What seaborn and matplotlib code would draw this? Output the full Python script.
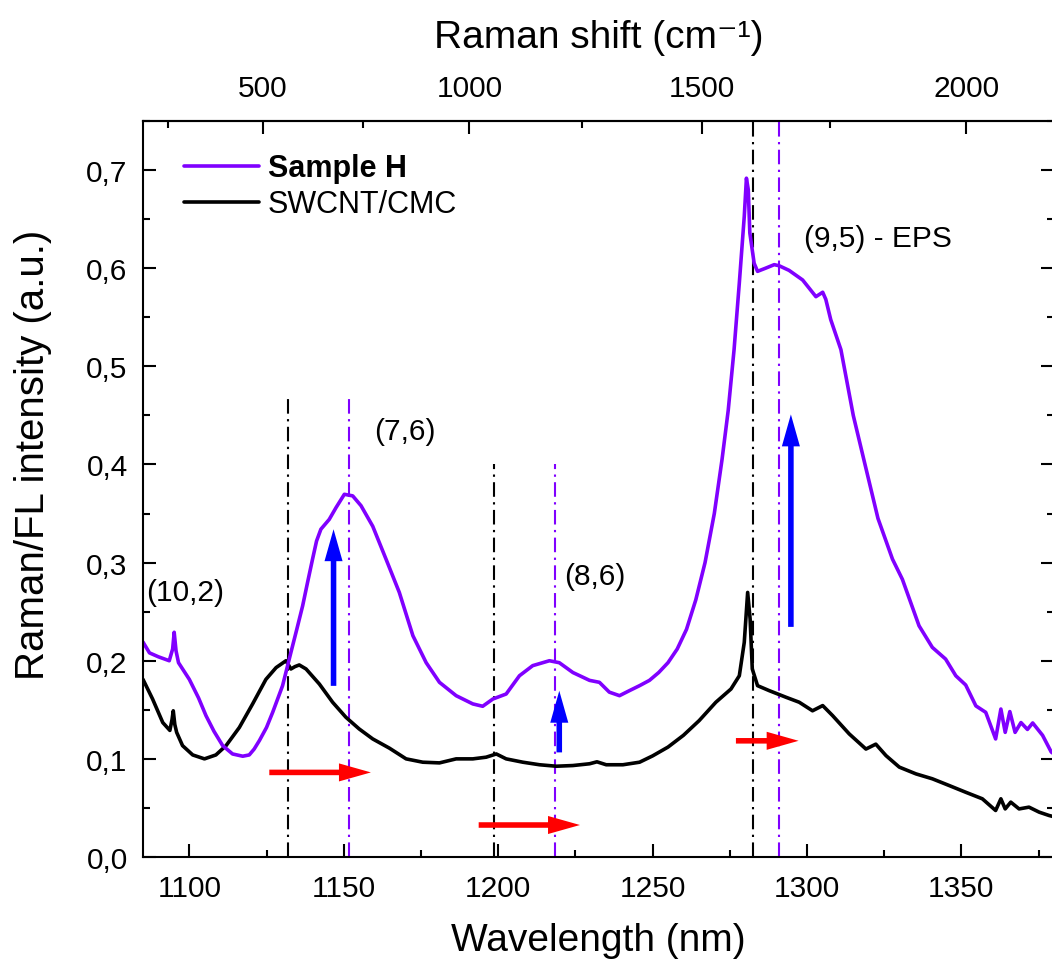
import numpy as np
import pandas as pd
import matplotlib
matplotlib.use("Agg")
import matplotlib.pyplot as plt
from matplotlib.ticker import FixedLocator, MultipleLocator, FuncFormatter
import seaborn as sns

# ---------------- data ----------------
sample_h_wl = [1085.0, 1087.1, 1090.0, 1093.5, 1094.6, 1095.1, 1095.7, 1096.5, 1100.0, 1103.0,
               1105.4, 1108.0, 1110.8, 1114.0, 1117.3, 1119.4, 1121.0, 1122.7, 1125.0, 1127.0,
               1130.2, 1132.9, 1134.8, 1136.7, 1138.3, 1139.9, 1141.2, 1142.6, 1145.3, 1147.5,
               1150.2, 1152.9, 1155.6, 1159.4, 1163.7, 1168.0, 1172.4, 1176.7, 1181.0, 1186.4,
               1191.8, 1195.0, 1198.3, 1202.6, 1206.9, 1211.2, 1216.6, 1219.8, 1224.2, 1229.6,
               1232.8, 1236.0, 1239.3, 1242.5, 1245.8, 1249.0, 1252.0, 1255.0, 1258.0, 1261.0,
               1264.0, 1267.0, 1270.0, 1272.5, 1274.5, 1276.4, 1278.1, 1279.7, 1280.4, 1281.0,
               1281.5, 1282.9, 1284.0, 1286.6, 1289.4, 1291.0, 1294.2, 1298.6, 1302.9, 1305.1,
               1306.1, 1307.7, 1311.0, 1315.0, 1318.8, 1323.0, 1327.7, 1330.9, 1336.3, 1340.6,
               1344.9, 1348.2, 1351.4, 1354.7, 1357.9, 1361.1, 1362.8, 1364.2, 1365.7, 1367.4,
               1369.3, 1371.4, 1373.1, 1376.3, 1379.1, 1380.0]
sample_h_int = [0.219, 0.208, 0.204, 0.200, 0.212, 0.229, 0.210, 0.198, 0.181, 0.162,
                0.144, 0.128, 0.1135, 0.105, 0.1027, 0.104, 0.110, 0.1187, 0.132, 0.1475,
                0.1746, 0.2085, 0.232, 0.256, 0.280, 0.3035, 0.322, 0.334, 0.344, 0.356,
                0.3696, 0.368, 0.358, 0.337, 0.3035, 0.2696, 0.2255, 0.198, 0.178, 0.1644,
                0.156, 0.1536, 0.161, 0.1661, 0.1847, 0.195, 0.200, 0.198, 0.188, 0.180,
                0.178, 0.168, 0.1644, 0.1695, 0.1746, 0.180, 0.188, 0.198, 0.212, 0.232,
                0.262, 0.300, 0.350, 0.405, 0.455, 0.517, 0.585, 0.6527, 0.6917, 0.680,
                0.636, 0.605, 0.5968, 0.600, 0.6036, 0.6025, 0.5978, 0.588, 0.571, 0.5755,
                0.5683, 0.5476, 0.517, 0.450, 0.400, 0.345, 0.3035, 0.283, 0.2356, 0.2136,
                0.2017, 0.1847, 0.1753, 0.154, 0.1474, 0.1203, 0.1508, 0.127, 0.1482, 0.127,
                0.137, 0.130, 0.1366, 0.124, 0.107, 0.105]

swcnt_wl = [1085.0, 1088.1, 1091.4, 1093.7, 1094.4, 1094.8, 1095.3, 1095.9, 1097.8, 1101.1,
            1104.9, 1108.6, 1111.9, 1116.2, 1120.5, 1124.8, 1128.1, 1131.3, 1132.9, 1134.2,
            1135.6, 1137.8, 1142.1, 1146.4, 1150.7, 1155.0, 1159.4, 1164.8, 1170.2, 1175.6,
            1181.0, 1186.4, 1191.8, 1196.1, 1199.4, 1202.6, 1208.0, 1213.4, 1218.8, 1224.2,
            1229.6, 1232.0, 1235.0, 1240.4, 1245.8, 1250.0, 1255.0, 1260.0, 1265.1, 1270.5,
            1275.4, 1278.1, 1279.7, 1280.8, 1281.6, 1282.3, 1284.0, 1287.8, 1293.2, 1297.5,
            1301.8, 1305.1, 1308.3, 1313.7, 1319.1, 1322.3, 1325.6, 1329.9, 1335.3, 1340.6,
            1346.0, 1351.4, 1356.8, 1361.1, 1362.8, 1364.2, 1366.0, 1368.7, 1371.9, 1375.2,
            1378.4, 1380.0]
swcnt_int = [0.181, 0.161, 0.137, 0.129, 0.140, 0.149, 0.135, 0.127, 0.1135, 0.104,
             0.100, 0.104, 0.1135, 0.132, 0.156, 0.181, 0.193, 0.200, 0.1916, 0.194,
             0.1957, 0.1916, 0.1763, 0.1577, 0.1424, 0.1305, 0.1203, 0.1109, 0.100, 0.0966,
             0.0959, 0.100, 0.100, 0.1017, 0.105, 0.100, 0.0966, 0.094, 0.0925, 0.0932,
             0.095, 0.097, 0.094, 0.094, 0.0966, 0.103, 0.112, 0.124, 0.139, 0.1577,
             0.1712, 0.1847, 0.2187, 0.2696, 0.2424, 0.1916, 0.1746, 0.1695, 0.1628, 0.1577,
             0.149, 0.1543, 0.1441, 0.1254, 0.110, 0.115, 0.1033, 0.0916, 0.0847, 0.0797,
             0.0729, 0.066, 0.0593, 0.0474, 0.0593, 0.049, 0.0559, 0.049, 0.0508, 0.0457,
             0.0423, 0.041]

series_names = ["Sample H", "SWCNT/CMC"]

# reference peak positions (nm) and the heights the marker lines reach
ref_lines_black = [1131.8, 1198.7, 1282.6]
ref_lines_purple = [1151.6, 1218.4, 1291.0]
ref_lines_top = [0.47, 0.40, 0.75]

# annotations
peak_labels = ["(10,2)", "(7,6)", "(8,6)", "(9,5) - EPS"]
peak_label_x = [1086.0, 1169.8, 1231.2, 1299.1]
peak_label_y = [0.270, 0.434, 0.2865, 0.631]
peak_label_ha = ["left", "center", "center", "left"]

up_arrow_x = [1146.7, 1219.8, 1294.8]
up_arrow_from = [0.1744, 0.1066, 0.2345]
up_arrow_to = [0.334, 0.1694, 0.451]

right_arrow_from = [1125.9, 1193.7, 1277.0]
right_arrow_to = [1158.8, 1226.5, 1297.3]
right_arrow_y = [0.0862, 0.0326, 0.1184]

x_ticks = [1100, 1150, 1200, 1250, 1300, 1350]
y_ticks = [0.0, 0.1, 0.2, 0.3, 0.4, 0.5, 0.6, 0.7]
raman_ticks = [500, 1000, 1500, 2000]
raman_minor = [250, 750, 1250, 1750]
laser_nm = 1064.0

# ---------------- styling ----------------
sns.set_style("ticks")
plt.rcParams["font.family"] = ["Liberation Sans", "DejaVu Sans"]
plt.rcParams["axes.linewidth"] = 1.5
for key in ["text.color", "axes.labelcolor", "xtick.color", "ytick.color", "axes.edgecolor"]:
    plt.rcParams[key] = "black"

PURPLE = "#8000ff"

df = pd.concat([
    pd.DataFrame({"Wavelength": swcnt_wl, "Intensity": swcnt_int, "Series": series_names[1]}),
    pd.DataFrame({"Wavelength": sample_h_wl, "Intensity": sample_h_int, "Series": series_names[0]}),
], ignore_index=True)

fig = plt.figure(figsize=(10.52, 9.62), dpi=100)
ax = fig.add_axes([143 / 1052, 104 / 962, 911 / 1052, 736 / 962])

sns.lineplot(data=df, x="Wavelength", y="Intensity", hue="Series",
             hue_order=[series_names[1], series_names[0]],
             palette={series_names[0]: PURPLE, series_names[1]: "black"},
             sort=False, estimator=None, linewidth=2.6, legend=False, ax=ax)

dash = (0, (7, 2.6, 1.1, 2.6))
for xb, xp, top in zip(ref_lines_black, ref_lines_purple, ref_lines_top):
    ax.plot([xb, xb], [0, top], color="black", lw=1.5, linestyle=dash, zorder=1)
    ax.plot([xp, xp], [0, top], color=PURPLE, lw=1.5, linestyle=dash, zorder=1)

astyle = "simple,tail_width=0.2,head_width=0.65,head_length=1.15"
for x, y0, y1 in zip(up_arrow_x, up_arrow_from, up_arrow_to):
    ax.annotate("", xy=(x, y1), xytext=(x, y0),
                arrowprops=dict(arrowstyle=astyle, color="#0000ff", lw=0,
                                shrinkA=0, shrinkB=0, mutation_scale=20))
for x0, x1, y in zip(right_arrow_from, right_arrow_to, right_arrow_y):
    ax.annotate("", xy=(x1, y), xytext=(x0, y),
                arrowprops=dict(arrowstyle=astyle, color="#ff0000", lw=0,
                                shrinkA=0, shrinkB=0, mutation_scale=20))

for t, x, y, ha in zip(peak_labels, peak_label_x, peak_label_y, peak_label_ha):
    ax.text(x, y, t, ha=ha, va="center", fontsize=21.5, color="black")

ax.set_xlim(1085, 1380)
ax.set_ylim(0, 0.75)
ax.set_xticks(x_ticks)
ax.xaxis.set_minor_locator(MultipleLocator(25))
ax.set_yticks(y_ticks)
ax.yaxis.set_minor_locator(MultipleLocator(0.05))
ax.yaxis.set_major_formatter(FuncFormatter(lambda v, p: f"{v:.1f}".replace(".", ",")))
ax.tick_params(axis="both", which="both", direction="in", width=1.5, labelsize=21.5)
ax.tick_params(axis="both", which="major", length=9.5)
ax.tick_params(axis="both", which="minor", length=5)
ax.tick_params(axis="y", which="both", right=True, pad=11)
ax.tick_params(axis="x", which="both", top=False, pad=12)
ax.set_xlabel("Wavelength (nm)", fontsize=28, labelpad=15)
ax.set_ylabel("Raman/FL intensity (a.u.)", fontsize=29)
ax.yaxis.set_label_coords(-0.10, 0.548)


def wl2shift(x):
    x = np.asarray(x, dtype=float)
    with np.errstate(divide="ignore", invalid="ignore"):
        return 1e7 / laser_nm - 1e7 / x


def shift2wl(s):
    s = np.asarray(s, dtype=float)
    with np.errstate(divide="ignore", invalid="ignore"):
        return 1e7 / (1e7 / laser_nm - s)


sec = ax.secondary_xaxis("top", functions=(wl2shift, shift2wl))
sec.set_xticks(raman_ticks)
sec.xaxis.set_minor_locator(FixedLocator(raman_minor))
sec.tick_params(which="both", direction="in", width=1.5, labelsize=21.5, pad=14)
sec.tick_params(which="major", length=9.5)
sec.tick_params(which="minor", length=5)
sec.set_xlabel("Raman shift (cm\u207b\u00b9)", fontsize=28, labelpad=19)

lines = ax.get_lines()
handles = [lines[1], lines[0]]
leg = ax.legend(handles, series_names, loc="upper left", bbox_to_anchor=(0.045, 0.956),
                frameon=False, fontsize=22, handlelength=2.45, handletextpad=0.3,
                labelspacing=0.2, borderaxespad=0, borderpad=0)
leg.get_texts()[0].set_fontweight("bold")

fig.savefig("out.png", dpi=100)
